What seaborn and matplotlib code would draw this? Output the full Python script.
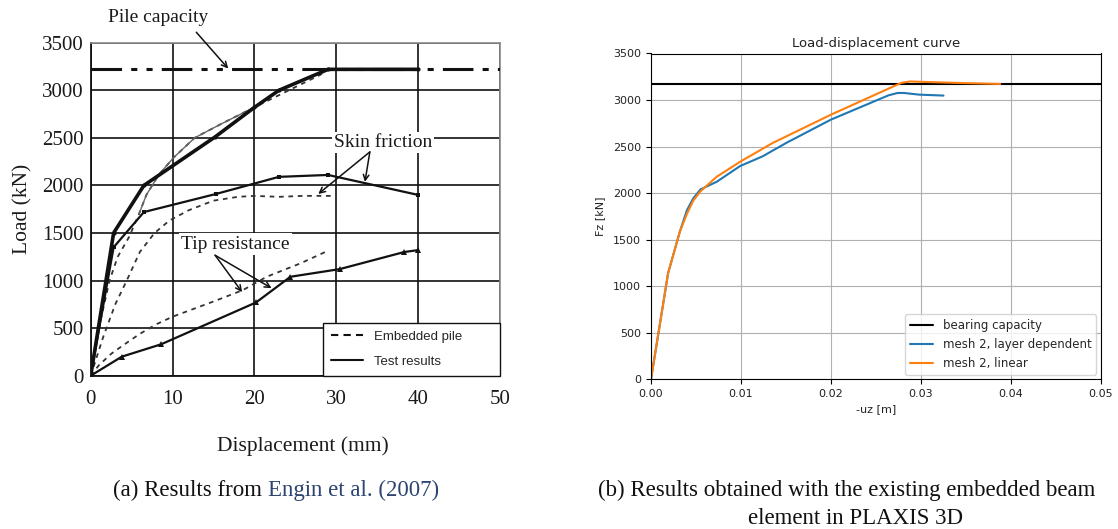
import numpy as np
import pandas as pd
import matplotlib
matplotlib.use("Agg")
import matplotlib.pyplot as plt
from matplotlib.lines import Line2D
import seaborn as sns

# ---------------- data: (a) Engin et al. (2007) ----------------
test_total_x = [0, 2.8, 6.5, 15.2, 20, 23, 29, 40]
test_total_y = [0, 1500, 2000, 2510, 2820, 3000, 3220, 3220]

test_skin_x = [0, 2.8, 6.5, 15.3, 23, 29, 40]
test_skin_y = [0, 1350, 1720, 1910, 2090, 2110, 1900]

test_tip_x = [0, 3.8, 8.6, 20.2, 24.4, 30.4, 38.3, 40]
test_tip_y = [0, 200, 330, 770, 1040, 1120, 1300, 1320]

emb_total_x = [0, 1.0, 2.3, 3.3, 4.7, 5.9, 6.8, 8.3, 10.1, 12.7, 15.8, 19.5, 23.5, 28, 29]
emb_total_y = [0, 500, 1000, 1250, 1460, 1700, 1900, 2110, 2290, 2500, 2640, 2800, 2970, 3160, 3220]

emb_skin_x = [0, 1.5, 3.0, 4.4, 6.0, 7.8, 9.6, 12, 15, 18, 20, 23, 26, 29.5]
emb_skin_y = [0, 400, 750, 1000, 1300, 1500, 1630, 1740, 1840, 1880, 1890, 1880, 1890, 1890]

emb_tip_x = [0, 1, 2.5, 3.8, 6, 8, 10, 12.5, 15, 18.6, 21.5, 25.6, 29]
emb_tip_y = [0, 110, 230, 310, 440, 540, 620, 700, 780, 900, 1040, 1180, 1314]

pile_capacity = 3220

# ---------------- data: (b) PLAXIS 3D ----------------
uz_linear = [0, 0.0019, 0.0032, 0.0040, 0.0047, 0.0055, 0.0073, 0.0099, 0.0135, 0.020,
             0.0278, 0.0288, 0.0302, 0.034, 0.0388]
fz_linear = [0, 1140, 1585, 1780, 1920, 2020, 2176, 2337, 2538, 2843,
             3184, 3200, 3195, 3184, 3173]
uz_layer = [0, 0.0019, 0.0032, 0.0040, 0.0047, 0.0055, 0.0073, 0.0099, 0.0124, 0.015,
            0.020, 0.0264, 0.0274, 0.0281, 0.0298, 0.0325]
fz_layer = [0, 1140, 1585, 1818, 1944, 2040, 2122, 2291, 2395, 2538,
            2790, 3051, 3076, 3076, 3058, 3048]
bearing_capacity = 3175

# ---------------- figure ----------------
sns.set_style("white")
plt.rcParams["font.family"] = ["DejaVu Sans"]
fig = plt.figure(figsize=(11.18, 5.29), dpi=100)

serif = "Liberation Serif"
txtc = "#1a1a1a"

# ======== left panel ========
axL = fig.add_axes([90.7 / 1118, 1 - 375.7 / 529, 409.3 / 1118, 333 / 529])
axL.set_xlim(0, 50)
axL.set_ylim(0, 3500)
axL.set_xticks(range(0, 51, 10))
axL.set_yticks(range(0, 3501, 500))
axL.grid(True, color="#111111", lw=1.2)
axL.set_axisbelow(True)
for s in ["left", "bottom"]:
    axL.spines[s].set_color("#111111")
    axL.spines[s].set_linewidth(1.3)
for s in ["top", "right"]:
    axL.spines[s].set_color("#8a8a8a")
    axL.spines[s].set_linewidth(1.2)
axL.tick_params(axis="x", direction="out", length=4, width=1, color="#111111", pad=6,
                labelsize=15, labelcolor=txtc)
axL.tick_params(axis="y", length=0, pad=5, labelsize=15, labelcolor=txtc)
for lab in axL.get_xticklabels() + axL.get_yticklabels():
    lab.set_family(serif)

dash_emb = (0, (2.6, 2.6))
ec = "#333333"

# pile capacity line
axL.axhline(pile_capacity, color="#111111", lw=2.2, linestyle=(0, (10, 3, 2, 3, 2, 3)), zorder=3)

# embedded pile curves
sns.lineplot(x=emb_total_x, y=emb_total_y, ax=axL, sort=False, estimator=None,
             color=ec, lw=1.3, linestyle=dash_emb, zorder=3)
mx = np.array(emb_total_x)
my = np.array(emb_total_y)
mask = (mx >= 5.9) & (mx <= 19.5)
sns.lineplot(x=mx[mask], y=my[mask], ax=axL, sort=False, estimator=None,
             color="#666666", lw=1.0, zorder=3)
sns.lineplot(x=emb_skin_x, y=emb_skin_y, ax=axL, sort=False, estimator=None,
             color=ec, lw=1.3, linestyle=dash_emb, zorder=3)
sns.lineplot(x=emb_tip_x, y=emb_tip_y, ax=axL, sort=False, estimator=None,
             color=ec, lw=1.3, linestyle=dash_emb, zorder=3)

# test results
sns.lineplot(x=test_total_x, y=test_total_y, ax=axL, sort=False, estimator=None,
             color="#111111", lw=2.6, marker="o", markersize=3, markeredgewidth=0, zorder=4)
sns.lineplot(x=test_skin_x, y=test_skin_y, ax=axL, sort=False, estimator=None,
             color="#111111", lw=1.6, marker="s", markersize=3.2, markeredgewidth=0, zorder=4)
sns.lineplot(x=test_tip_x, y=test_tip_y, ax=axL, sort=False, estimator=None,
             color="#111111", lw=1.6, marker="^", markersize=3.8, markeredgewidth=0, zorder=4)

axL.set_xlabel("Displacement (mm)", family=serif, fontsize=15.5, color=txtc)
axL.xaxis.set_label_coords((303 - 90.7) / 409.3, (375.7 - 436) / 333)
axL.set_ylabel("Load (kN)", family=serif, fontsize=15.5, color=txtc, labelpad=7)

arrow_kw = dict(arrowstyle="->", color="#111111", lw=1.1, shrinkA=0, shrinkB=0)
axL.text(8.2, 3770, "Pile capacity", family=serif, fontsize=14, color=txtc,
         ha="center", va="center", clip_on=False)
axL.annotate("", xy=(16.8, 3228), xytext=(12.9, 3610), arrowprops=arrow_kw,
             annotation_clip=False)

axL.text(35.7, 2450, "Skin friction", family=serif, fontsize=14, color=txtc,
         ha="center", va="center", zorder=5,
         bbox=dict(facecolor="white", edgecolor="none", pad=1.5))
axL.annotate("", xy=(33.5, 2037), xytext=(34.1, 2352), arrowprops=arrow_kw, zorder=5)
axL.annotate("", xy=(27.8, 1910), xytext=(34.1, 2352), arrowprops=arrow_kw, zorder=5)

axL.text(17.7, 1383, "Tip resistance", family=serif, fontsize=14, color=txtc,
         ha="center", va="center", zorder=5,
         bbox=dict(facecolor="white", edgecolor="none", pad=1.5))
axL.annotate("", xy=(18.5, 878), xytext=(15.2, 1266), arrowprops=arrow_kw, zorder=5)
axL.annotate("", xy=(22.1, 920), xytext=(15.2, 1266), arrowprops=arrow_kw, zorder=5)

legL_handles = [Line2D([], [], color="#111111", lw=1.5, linestyle=(0, (3.5, 2.5))),
                Line2D([], [], color="#111111", lw=1.5)]
x0 = (323.3 - 90.7) / 409.3
legL = axL.legend(legL_handles, ["Embedded pile", "Test results"], loc="lower left",
                  bbox_to_anchor=(x0, 0.0, 1 - x0, 0.17), mode="expand",
                  borderaxespad=0, frameon=True, fancybox=False,
                  handlelength=2.4, handletextpad=0.85, labelspacing=0.95,
                  borderpad=0.6, prop={"family": "Liberation Sans", "size": 9.5})
legL.get_frame().set_edgecolor("#111111")
legL.get_frame().set_linewidth(1.0)
legL.get_frame().set_alpha(1)
legL.set_zorder(6)

# ======== right panel ========
axR = fig.add_axes([651 / 1118, 1 - 379.3 / 529, 450 / 1118, 325.8 / 529])
axR.set_xlim(0, 0.05)
axR.set_ylim(0, 3500)
axR.set_xticks([0, 0.01, 0.02, 0.03, 0.04, 0.05])
axR.set_xticklabels(["0.00", "0.01", "0.02", "0.03", "0.04", "0.05"])
axR.set_yticks(range(0, 3501, 500))
axR.grid(True, color="#b0b0b0", lw=0.8)
axR.set_axisbelow(True)
for s in axR.spines.values():
    s.set_color("black")
    s.set_linewidth(0.8)
axR.tick_params(direction="out", length=3.5, width=0.8, labelsize=8, color="black",
                labelcolor="#222222", left=True, bottom=True)

axR.axhline(bearing_capacity, color="black", lw=1.5, label="bearing capacity")
pal = sns.color_palette("tab10")
sns.lineplot(x=uz_layer, y=fz_layer, ax=axR, sort=False, estimator=None, color=pal[0],
             lw=1.5, label="mesh 2, layer dependent")
sns.lineplot(x=uz_linear, y=fz_linear, ax=axR, sort=False, estimator=None, color=pal[1],
             lw=1.5, label="mesh 2, linear")
axR.legend(loc="lower right", fontsize=8.5, frameon=True, fancybox=True,
           framealpha=0.8, edgecolor="#cccccc", borderaxespad=0.4)
axR.set_title("Load-displacement curve", fontsize=9.5, pad=5, color="#222222")
axR.set_xlabel("-uz [m]", fontsize=8, color="#222222", labelpad=4)
axR.set_ylabel("Fz [kN]", fontsize=8, color="#222222", labelpad=6)

# ======== captions ========
capsize = 16.5
t1 = fig.text(113 / 1118, 1 - 490 / 529, "(a) Results from ", family=serif,
              fontsize=capsize, color="#111111", ha="left", va="center")
fig.canvas.draw()
axL.annotate("Engin et al. (2007)", xy=(1, 0), xycoords=t1, family=serif,
             fontsize=capsize, color="#2d4470", ha="left", va="bottom",
             annotation_clip=False)
fig.text(598 / 1118, 1 - 490 / 529, "(b) Results obtained with the existing embedded beam",
         family=serif, fontsize=capsize, color="#111111", ha="left", va="center")
fig.text(855 / 1118, 1 - 518 / 529, "element in PLAXIS 3D",
         family=serif, fontsize=capsize, color="#111111", ha="center", va="center")

fig.savefig("out.png", dpi=100)
